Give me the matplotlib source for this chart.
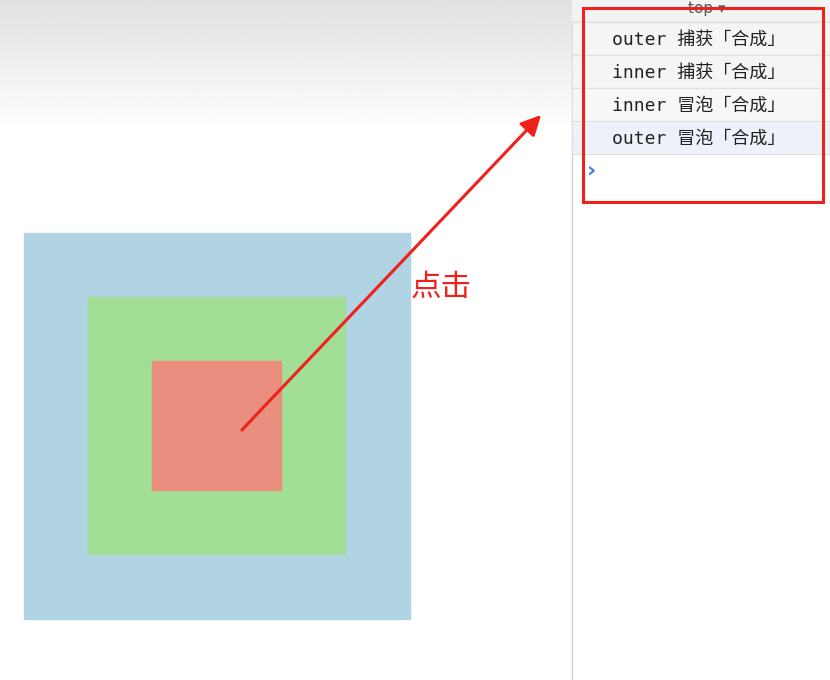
import numpy as np
import matplotlib.pyplot as plt
from matplotlib.patches import Rectangle, FancyArrowPatch

# nested boxes: (name, x, y, size, colour)
boxes = ["outer", "middle", "inner"]
box_x = [24, 88, 152]
box_y = [233, 297, 361]
box_size = [386, 257, 129]
box_colors = ["#b0d4e3", "#a2de96", "#ea8f7f"]

# console log lines
log_lines = ["outer 捕获「合成」", "inner 捕获「合成」", "inner 冒泡「合成」", "outer 冒泡「合成」"]
row_tops = [22, 55, 88, 121]
row_colors = ["#f5f5f5", "#f5f5f5", "#f7f7f7", "#edf2fa"]

W, H = 830, 680
fig = plt.figure(figsize=(W / 100, H / 100), dpi=100)
ax = fig.add_axes([0, 0, 1, 1])
ax.set_xlim(0, W)
ax.set_ylim(H, 0)
ax.axis("off")

# gray gradient on top of page
grad = np.linspace(0.88, 1.0, 100).reshape(-1, 1)
ax.imshow(grad, cmap="gray", vmin=0, vmax=1, extent=[0, 572, 135, 0], aspect="auto", zorder=0)

for x, y, s, c in zip(box_x, box_y, box_size, box_colors):
    ax.add_patch(Rectangle((x, y), s, s, color=c, zorder=1))

# devtools panel
ax.add_patch(Rectangle((572, 0), 258, H, color="white", zorder=2))
ax.plot([572, 572], [0, H], color="#d0d0d0", lw=1, zorder=3)
ax.add_patch(Rectangle((572, 0), 258, 22, color="#f1f3f4", zorder=3))
ax.plot([572, 830], [22, 22], color="#c8c8c8", lw=1, zorder=3)
ax.text(688, 8, "top ▾", fontsize=11, color="#555555", va="center", zorder=3)
for t, c in zip(row_tops, row_colors):
    ax.add_patch(Rectangle((572, t), 258, 33, facecolor=c, edgecolor="#e0e0e0", lw=0.8, zorder=3))
for t, line in zip(row_tops, log_lines):
    ax.text(612, t + 18, line, fontsize=13, color="#222222", va="center",
            family=["DejaVu Sans Mono", "Noto Sans CJK SC"], zorder=4)
ax.text(587, 170, "›", fontsize=16, color="#3b78e7", va="center", fontweight="bold", zorder=4)

ax.add_patch(Rectangle((583, 8), 240, 194, fill=False, edgecolor="#f0201a", lw=2.2, zorder=5))

ax.add_patch(FancyArrowPatch((240, 432), (543, 113), arrowstyle="-|>,head_length=12,head_width=6",
                             color="#f0201a", lw=2.2, zorder=6))
ax.text(411, 287, "点击", fontsize=22, color="#f0201a", va="center",
        family=["Noto Sans CJK SC", "DejaVu Sans"], zorder=6)

fig.savefig("out.png", dpi=100)
